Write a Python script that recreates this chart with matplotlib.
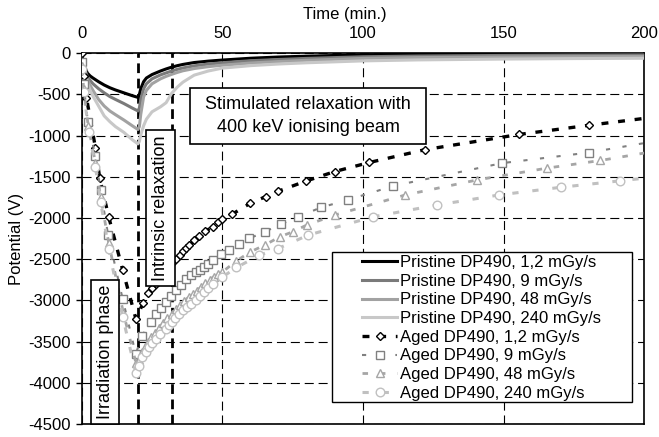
import matplotlib
matplotlib.use("Agg")
import matplotlib.pyplot as plt
from matplotlib.patches import Rectangle

plt.rcParams['font.family'] = ['Liberation Sans', 'DejaVu Sans']
plt.rcParams['axes.unicode_minus'] = False
plt.rcParams['lines.scale_dashes'] = False

# ---------------- data ----------------
x_ticks = [0, 50, 100, 150, 200]
y_ticks = [-4500, -4000, -3500, -3000, -2500, -2000, -1500, -1000, -500, 0]
phase_bounds = [20, 32]

t_pristine = [0, 0.5, 1, 2, 3, 4, 6, 8, 10, 12, 15, 18, 20, 20.5, 21, 22, 23, 25, 28, 30,
              32, 34, 36, 40, 45, 50, 60, 70, 80, 100, 120, 150, 175, 200]
pristine_1_2 = [0, -90, -160, -240, -275, -300, -345, -385, -418, -445, -480, -515, -535, -500,
                -430, -345, -300, -258, -215, -190, -168, -150, -135, -112, -95, -82, -60, -45,
                -35, -18, -12, -8, -6, -5]
pristine_9 = [0, -110, -190, -280, -330, -370, -430, -480, -525, -560, -610, -665, -700, -665,
              -560, -430, -370, -310, -262, -238, -215, -195, -178, -152, -130, -115, -90, -75,
              -62, -42, -33, -26, -22, -20]
pristine_48 = [0, -120, -210, -320, -390, -450, -560, -640, -700, -745, -810, -880, -925, -890,
               -740, -530, -450, -370, -310, -280, -255, -232, -212, -185, -162, -145, -118,
               -100, -85, -62, -52, -45, -41, -38]
pristine_240 = [0, -140, -230, -360, -450, -520, -640, -760, -830, -890, -960, -1050, -1100,
                -1070, -990, -880, -800, -710, -650, -600, -485, -410, -350, -265, -215, -180,
                -150, -130, -115, -92, -80, -70, -64, -60]

t_aged_1_2 = [0, 0.7, 1.7, 4.9, 6.4, 9.6, 14.6, 19.3, 21.8, 23.7, 25, 26.3, 27.5, 28.7, 30,
              31, 32.2, 33.5, 34.8, 36, 37.1, 38.2, 40, 41.8, 44, 46.5, 48.5, 50, 53.6, 59.9,
              65.4, 69.8, 79.9, 90, 102.3, 122, 155.5, 180.2, 200]
aged_1_2 = [0, -277, -540, -1150, -1516, -1985, -2634, -3228, -3033, -2911, -2850, -2797,
            -2755, -2716, -2655, -2600, -2545, -2492, -2445, -2400, -2365, -2329, -2270,
            -2215, -2160, -2106, -2050, -2012, -1951, -1821, -1740, -1675, -1549, -1435,
            -1325, -1170, -985, -874, -790]

t_aged_9 = [0, 0.7, 2.2, 4.9, 6.7, 9.4, 14.6, 19.2, 21.5, 24.5, 26.3, 28.1, 29.9, 31.7, 33.5,
            35.2, 37, 38.8, 40.6, 42.1, 43.6, 45, 46.5, 49.5, 52.5, 56, 59.6, 65, 71, 76.9,
            85.2, 94.6, 110.8, 149.5, 180.3, 200]
aged_9 = [-110, -378, -838, -1252, -1658, -2207, -2988, -3650, -3427, -3264, -3163, -3090,
          -3020, -2950, -2878, -2817, -2736, -2695, -2655, -2625, -2594, -2555, -2512, -2431,
          -2385, -2309, -2248, -2167, -2073, -1984, -1870, -1780, -1610, -1333, -1205, -1090]

t_aged_48 = [0, 0.7, 2.3, 4.9, 6.7, 9.6, 14.8, 19.3, 20.5, 21.5, 22.5, 23.5, 24.8, 26, 27.5,
             29, 30.5, 32, 33.5, 35, 36.5, 38, 39.5, 41, 42.5, 44, 45.5, 47, 48.5, 50, 55, 60,
             65, 70.4, 75, 80, 90, 115, 140.6, 165.4, 184.4, 200]
aged_48 = [-150, -430, -880, -1330, -1740, -2300, -3150, -3760, -3720, -3620, -3560, -3500,
           -3445, -3390, -3330, -3270, -3215, -3160, -3110, -3060, -3010, -2960, -2920,
           -2880, -2835, -2790, -2750, -2710, -2680, -2655, -2520, -2410, -2329, -2228,
           -2167, -2085, -1963, -1720, -1537, -1394, -1301, -1211]

t_aged_240 = [0, 0.7, 2.5, 4.9, 6.7, 9.6, 14.6, 19.3, 20.4, 21.5, 22.7, 23.9, 25.1, 26.3, 28,
              29.9, 31, 32, 33.3, 34.6, 36, 37.5, 39, 40.6, 42, 43.5, 45, 46.5, 50, 55, 63.2,
              69.8, 80.5, 103.7, 126.3, 148.3, 170.4, 191.2, 200]
aged_240 = [-195, -475, -950, -1378, -1800, -2370, -3204, -3886, -3793, -3690, -3625, -3561,
            -3515, -3467, -3410, -3345, -3300, -3260, -3210, -3162, -3120, -3080, -3040,
            -3000, -2950, -2900, -2850, -2796, -2716, -2600, -2451, -2370, -2207, -1984,
            -1842, -1720, -1626, -1549, -1516]

pristine_labels = ["Pristine DP490, 1,2 mGy/s", "Pristine DP490, 9 mGy/s",
                   "Pristine DP490, 48 mGy/s", "Pristine DP490, 240 mGy/s"]
aged_labels = ["Aged DP490, 1,2 mGy/s", "Aged DP490, 9 mGy/s",
               "Aged DP490, 48 mGy/s", "Aged DP490, 240 mGy/s"]

# ---------------- figure ----------------
W, H = 659, 437
fig = plt.figure(figsize=(W / 100, H / 100), dpi=100)
AX_L, AX_R, AX_T, AX_B = 81.7, 644.3, 53.3, 424
ax = fig.add_axes([AX_L / W, 1 - AX_B / H, (AX_R - AX_L) / W, (AX_B - AX_T) / H])


def to_ax(px, py):
    return (px - AX_L) / (AX_R - AX_L), (AX_B - py) / (AX_B - AX_T)


ax.set_xlim(0, 200)
ax.set_ylim(-4500, 0)
ax.set_xticks(x_ticks)
ax.set_yticks(y_ticks)
ax.set_axisbelow(True)
ax.grid(True, color='black', lw=0.8, linestyle=(0, (6.5, 3.5)))

for tb in phase_bounds:
    ax.axvline(tb, color='black', lw=2.0, linestyle=(0, (7, 4)), zorder=2.5)

# pristine (solid)
pr_colors = ['#000000', '#7a7a7a', '#a2a2a2', '#c8c8c8']
for vals, col, lab in zip([pristine_1_2, pristine_9, pristine_48, pristine_240],
                          pr_colors, pristine_labels):
    ax.plot(t_pristine, vals, color=col, lw=2.2, label=lab, zorder=3,
            solid_joinstyle='round')

# aged (dashed + markers)
aged_specs = [
    (t_aged_1_2, aged_1_2, '#000000', 2.4, (5, 7), 'D', 4.3),
    (t_aged_9, aged_9, '#808080', 1.5, (3, 9), 's', 6.0),
    (t_aged_48, aged_48, '#a6a6a6', 2.0, (4, 8.5), '^', 6.2),
    (t_aged_240, aged_240, '#c0c0c0', 2.2, (4.5, 10), 'o', 6.2),
]
for (tt, vv, col, lw, dsh, mk, ms), lab in zip(aged_specs, aged_labels):
    ax.plot(tt, vv, color=col, lw=lw, linestyle=(0, dsh), marker=mk, ms=ms,
            mfc='white', mec=col, mew=1.0, markevery=slice(0, -1), label=lab, zorder=4)

# axes styling
for sp in ax.spines.values():
    sp.set_color('black')
    sp.set_linewidth(1.2)
ax.xaxis.tick_top()
ax.xaxis.set_label_position('top')
ax.tick_params(axis='x', length=0, pad=9, labelsize=12)
ax.tick_params(axis='y', direction='out', length=4, width=1, pad=4, labelsize=12)
ax.set_xlabel('Time (min.)', fontsize=12)
ax.xaxis.set_label_coords(to_ax(345, 0)[0], to_ax(0, 19)[1])
ax.set_ylabel('Potential (V)', fontsize=12)
ax.yaxis.set_label_coords(to_ax(24, 0)[0], 0.5)


def boxed_text(x0, y0, x1, y1, text, rotation=0):
    ax0, ay1 = to_ax(x0, y0)
    ax1, ay0 = to_ax(x1, y1)
    ax.add_patch(Rectangle((ax0, ay0), ax1 - ax0, ay1 - ay0, transform=ax.transAxes,
                           facecolor='white', edgecolor='black', lw=1.2, zorder=6,
                           clip_on=False))
    ax.text((ax0 + ax1) / 2, (ay0 + ay1) / 2, text, transform=ax.transAxes,
            ha='center', va='center', rotation=rotation, fontsize=13,
            linespacing=1.4, zorder=7)


boxed_text(190, 88, 426, 144, "Stimulated relaxation with\n400 keV ionising beam")
boxed_text(146, 130, 175, 286, "Intrinsic relaxation", rotation=90)
boxed_text(91, 280, 119, 424, "Irradiation phase", rotation=90)

# legend with manual frame
lx0, ly1 = to_ax(332, 252)
lx1, ly0 = to_ax(632, 402)
ax.add_patch(Rectangle((lx0, ly0), lx1 - lx0, ly1 - ly0, transform=ax.transAxes,
                       facecolor='white', edgecolor='black', lw=1.0, zorder=7.5))
hx, hy = to_ax(362, 255)
leg = ax.legend(loc='upper left', bbox_to_anchor=(hx, hy), frameon=False, fontsize=12,
                handlelength=2.1, handletextpad=0.15, labelspacing=0.22, borderpad=0,
                borderaxespad=0, numpoints=1)
leg.set_zorder(8)

fig.savefig('out.png', dpi=100)
